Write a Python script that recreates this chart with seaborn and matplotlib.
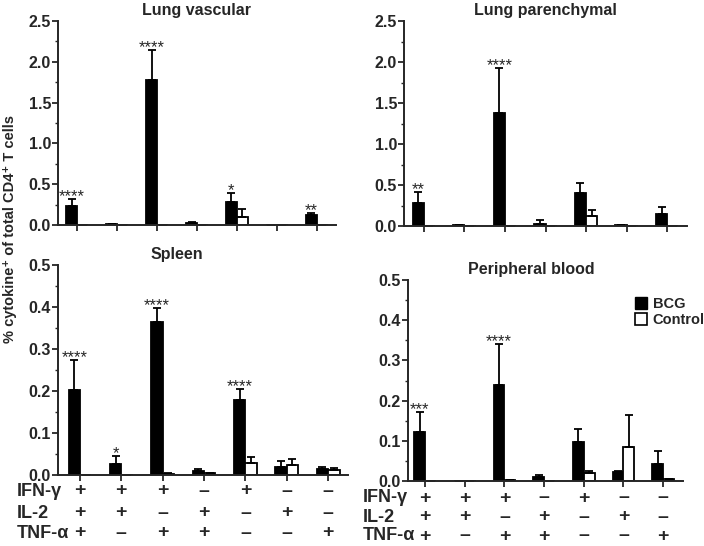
import numpy as np
import pandas as pd
import matplotlib
matplotlib.use("Agg")
import matplotlib.pyplot as plt
import matplotlib.transforms as mtransforms
import seaborn as sns

# ---- data ----
combos = ["c1", "c2", "c3", "c4", "c5", "c6", "c7"]
ifn_row = ["+", "+", "+", "–", "+", "–", "–"]
il2_row = ["+", "+", "–", "+", "–", "+", "–"]
tnf_row = ["+", "–", "+", "+", "–", "–", "+"]

# Lung vascular
lv_bcg = [0.23, 0.01, 1.78, 0.02, 0.28, 0.005, 0.12]
lv_bcg_err = [0.09, 0.0, 0.37, 0.012, 0.11, 0.0, 0.03]
lv_ctrl = [0.0, 0.0, 0.0, 0.005, 0.10, 0.0, 0.005]
lv_ctrl_err = [0.0, 0.0, 0.0, 0.0, 0.09, 0.0, 0.0]
lv_stars = {0: "****", 2: "****", 4: "*", 6: "**"}

# Lung parenchymal
lp_bcg = [0.28, 0.01, 1.38, 0.03, 0.40, 0.01, 0.15]
lp_bcg_err = [0.13, 0.0, 0.55, 0.04, 0.13, 0.0, 0.08]
lp_ctrl = [0.0, 0.0, 0.0, 0.0, 0.12, 0.0, 0.0]
lp_ctrl_err = [0.0, 0.0, 0.0, 0.0, 0.08, 0.0, 0.0]
lp_stars = {0: "**", 2: "****"}

# Spleen
sp_bcg = [0.202, 0.027, 0.365, 0.009, 0.178, 0.019, 0.015]
sp_bcg_err = [0.072, 0.019, 0.032, 0.005, 0.027, 0.014, 0.005]
sp_ctrl = [0.0, 0.0, 0.003, 0.004, 0.028, 0.025, 0.012]
sp_ctrl_err = [0.0, 0.0, 0.001, 0.001, 0.014, 0.013, 0.004]
sp_stars = {0: "****", 1: "*", 2: "****", 4: "****"}

# Peripheral blood
pb_bcg = [0.122, 0.0, 0.239, 0.010, 0.096, 0.022, 0.042]
pb_bcg_err = [0.050, 0.0, 0.101, 0.006, 0.034, 0.004, 0.033]
pb_ctrl = [0.0, 0.001, 0.003, 0.001, 0.019, 0.084, 0.004]
pb_ctrl_err = [0.0, 0.0, 0.0, 0.0, 0.005, 0.081, 0.002]
pb_stars = {0: "***", 2: "****"}

# ---- style ----
sns.set_style("ticks")
plt.rcParams["font.family"] = ["Liberation Sans", "DejaVu Sans"]
plt.rcParams["font.weight"] = "bold"

W, H = 704, 546
fig = plt.figure(figsize=(W / 100, H / 100), dpi=100)


def px_axes(left, right, top, bottom):
    return fig.add_axes([left / W, 1 - bottom / H, (right - left) / W, (bottom - top) / H])


def draw_panel(ax, title, bcg, bcg_err, ctrl, ctrl_err, stars, ymax, ystep, minor, xlim, title_x=0.5):
    df = pd.DataFrame({
        "combo": combos * 2,
        "group": ["BCG"] * 7 + ["Control"] * 7,
        "value": bcg + ctrl,
    })
    sns.barplot(data=df, x="combo", y="value", hue="group", hue_order=["BCG", "Control"],
                palette={"BCG": "black", "Control": "white"}, width=0.55,
                edgecolor="black", linewidth=1.3, errorbar=None, legend=False, ax=ax)
    # one-sided error bars
    for cont, vals, errs in zip(ax.containers, [bcg, ctrl], [bcg_err, ctrl_err]):
        xs = [p.get_x() + p.get_width() / 2 for p in cont.patches]
        ax.errorbar(xs, vals, yerr=[np.zeros(len(vals)), errs], fmt="none",
                    ecolor="black", elinewidth=1.3, capsize=3, capthick=1.3, zorder=1)
    # significance stars over BCG bars
    bcg_bars = ax.containers[0].patches
    for i, s in stars.items():
        x = bcg_bars[i].get_x() + bcg_bars[i].get_width() / 2
        ax.annotate(s, (x, bcg[i] + bcg_err[i]), xytext=(0, -1.5), textcoords="offset points",
                    ha="center", va="baseline", fontsize=12, fontweight="normal")
    ax.set_xlim(*xlim)
    ax.set_ylim(0, ymax)
    ax.set_yticks(np.arange(0, ymax + 1e-9, ystep))
    ax.set_yticks(np.arange(0, ymax + 1e-9, minor), minor=True)
    ax.yaxis.set_major_formatter(matplotlib.ticker.FormatStrFormatter("%.1f"))
    ax.set_xticks(range(7))
    ax.set_xticklabels([])
    ax.set_xlabel("")
    ax.set_ylabel("")
    ax.tick_params(axis="both", which="major", length=4, width=1.3, labelsize=11.5, pad=1)
    ax.tick_params(axis="y", which="minor", length=2, width=1.0)
    for lab in ax.get_yticklabels():
        lab.set_fontweight("bold")
    for sp in ["left", "bottom"]:
        ax.spines[sp].set_linewidth(1.4)
    sns.despine(ax=ax)
    ax.set_title(title, fontsize=11.5, fontweight="bold", x=title_x, pad=4)


def draw_table(ax, label_x, rows_y):
    tr = mtransforms.blended_transform_factory(ax.transData, fig.transFigure)
    for row_y, name, signs in zip(rows_y, ["IFN-γ", "IL-2", "TNF-α"], [ifn_row, il2_row, tnf_row]):
        fig.text(label_x / W, 1 - row_y / H, name, ha="left", va="center", fontsize=13, fontweight="bold")
        for i, s in enumerate(signs):
            ax.text(i, 1 - row_y / H, s, transform=tr, ha="center", va="center",
                    fontsize=14, fontweight="bold", clip_on=False)


ax1 = px_axes(58, 336, 21, 225)
draw_panel(ax1, "Lung vascular", lv_bcg, lv_bcg_err, lv_ctrl, lv_ctrl_err, lv_stars,
           2.5, 0.5, 0.25, (-0.48, 6.48), title_x=0.5)

ax2 = px_axes(404, 687, 21, 226)
draw_panel(ax2, "Lung parenchymal", lp_bcg, lp_bcg_err, lp_ctrl, lp_ctrl_err, lp_stars,
           2.5, 0.5, 0.25, (-0.49, 6.49), title_x=0.5)

ax3 = px_axes(58, 348, 265, 475)
draw_panel(ax3, "Spleen", sp_bcg, sp_bcg_err, sp_ctrl, sp_ctrl_err, sp_stars,
           0.5, 0.1, 0.05, (-0.53, 6.48), title_x=0.41)
draw_table(ax3, 17, [491, 513, 533])

ax4 = px_axes(408, 683, 280, 481)
draw_panel(ax4, "Peripheral blood", pb_bcg, pb_bcg_err, pb_ctrl, pb_ctrl_err, pb_stars,
           0.5, 0.1, 0.05, (-0.43, 6.5), title_x=0.45)
draw_table(ax4, 363, [498, 517, 536])

# legend
handles = [matplotlib.patches.Patch(facecolor="black", edgecolor="black", label="BCG"),
           matplotlib.patches.Patch(facecolor="white", edgecolor="black", linewidth=1.2, label="Control")]
fig.legend(handles=handles, loc="upper left", bbox_to_anchor=(635 / W, 1 - 297 / H),
           frameon=False, handlelength=0.85, handleheight=0.85, handletextpad=0.35,
           labelspacing=0.15, borderpad=0, borderaxespad=0, prop={"size": 10.5, "weight": "bold"})

fig.text(10 / W, 1 - 229 / H, "% cytokine⁺ of total CD4⁺ T cells", rotation=90,
         ha="center", va="center", fontsize=10.5, fontweight="bold")

fig.savefig("out.png", dpi=100)
